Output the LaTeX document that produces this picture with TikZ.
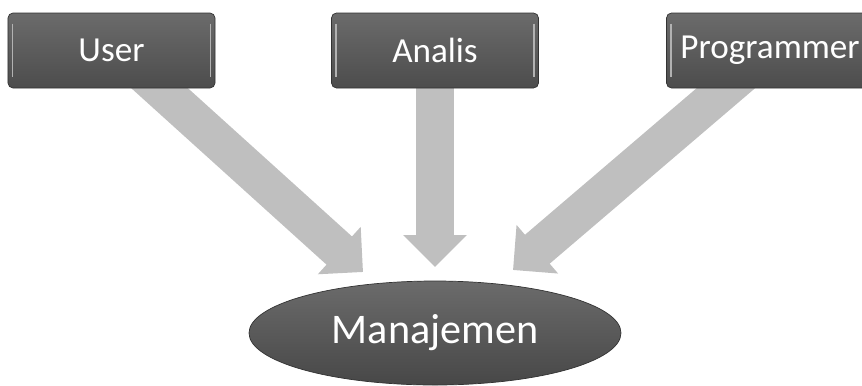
\documentclass[tikz,border=0pt]{standalone}
\usepackage{fontspec}
\setmainfont{Carlito}
\usepackage{tikz}
\usetikzlibrary{shapes.geometric, arrows.meta, calc, backgrounds}
\tikzstyle{role} = [rectangle, rounded corners=0.1cm, minimum width=4.14cm, minimum height=1.5cm, text centered, draw=black!80, top color=black!58, bottom color=black!70, text=white, font=\fontsize{20}{24}\selectfont,
  path picture={\draw [black!30, line width=1pt] ([xshift=2.5pt, yshift=-6pt]path picture bounding box.north west) -- ([xshift=2.5pt, yshift=6pt]path picture bounding box.south west);
                \draw [black!30, line width=1pt] ([xshift=-2.5pt, yshift=-6pt]path picture bounding box.north east) -- ([xshift=-2.5pt, yshift=6pt]path picture bounding box.south east);}]
\tikzstyle{core} = [ellipse, minimum width=7.44cm, minimum height=2.08cm, inner sep=0pt, draw=black!80, top color=black!58, bottom color=black!72, text=white, font=\fontsize{24}{28}\selectfont]
\tikzstyle{arrow} = [line width=0.76cm, draw=black!25, -{Triangle[width=1.24cm, length=0.64cm]}]

\begin{document}
\begin{tikzpicture}[node distance=5.65cm]
\useasboundingbox (0,0) rectangle (17.24,-7.7);
\node (analis) [role] at (8.70,-1.01) {Analis};
\node (user) [role, left of=analis, xshift=-0.82cm] {User};
\node (prog) [role, right of=analis, xshift=1.05cm] {Programmer};
\node (manaj) [core, below of=analis] {Manajemen};

\begin{scope}[on background layer]
\draw [arrow] ($(user)+(0.36,-0.21)$) -- ($(manaj)+(-1.44,1.22)$);
\draw [arrow] ($(analis)+(0,-0.3)$) -- ($(manaj)+(0,1.32)$);
\draw [arrow] ($(prog)+(-0.27,-0.23)$) -- ($(manaj)+(1.56,1.26)$);
\end{scope}
\end{tikzpicture}
\end{document}
